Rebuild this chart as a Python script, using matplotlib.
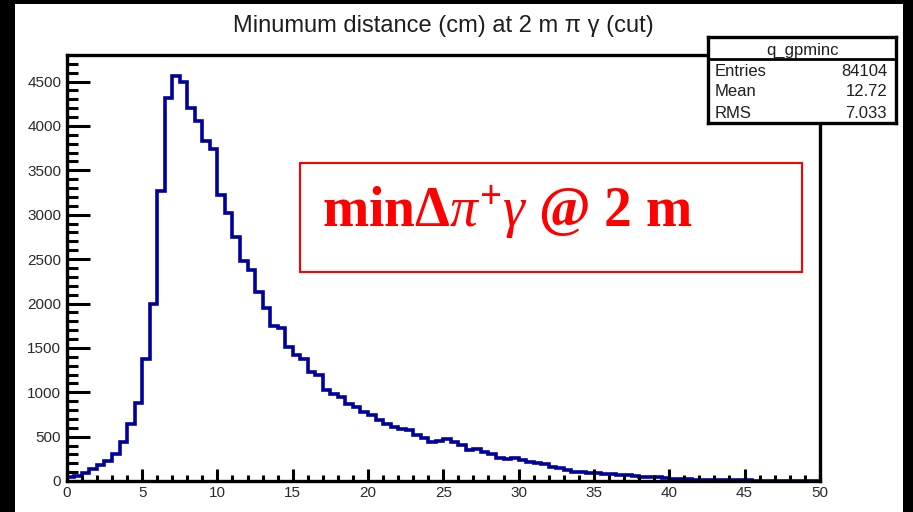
import numpy as np
import matplotlib
matplotlib.use("Agg")
import matplotlib.pyplot as plt
from matplotlib.patches import Rectangle

# minimum pi-gamma distance histogram, 100 bins of 0.5 cm
bin_edges = np.linspace(0, 50, 101)
counts = np.array([
    50, 60, 86, 135, 180, 225, 300, 443, 640, 883,
    1372, 1992, 3263, 4316, 4568, 4492, 4203, 4053, 3835, 3740,
    3226, 3019, 2744, 2481, 2380, 2135, 1947, 1750, 1720, 1515,
    1421, 1375, 1233, 1190, 1022, 977, 951, 868, 831, 782,
    744, 688, 645, 603, 585, 570, 515, 490, 444, 455,
    470, 444, 404, 346, 360, 325, 305, 260, 250, 254,
    233, 218, 205, 186, 158, 146, 128, 105, 105, 95,
    90, 80, 75, 70, 65, 60, 50, 45, 40, 35,
    25, 20, 18, 15, 15, 12, 10, 10, 8, 8,
    6, 5, 5, 4, 4, 3, 3, 2, 2, 1])
hist_name = "q_gpminc"
stat_labels = ["Entries", "Mean", "RMS"]
stat_values = ["84104", "12.72", "7.033"]
title = "Minumum distance (cm) at 2 m \u03c0 \u03b3 (cut)"

plt.rcParams['font.family'] = ['Liberation Sans', 'DejaVu Sans']
plt.rcParams['mathtext.fontset'] = 'custom'
plt.rcParams['mathtext.rm'] = 'Liberation Serif:bold'
plt.rcParams['mathtext.bf'] = 'Liberation Serif:bold'
plt.rcParams['mathtext.it'] = 'Liberation Serif:italic'

W, H = 913, 512
fig = plt.figure(figsize=(W / 100, H / 100), dpi=100, facecolor='black')

def fx(px):
    return px / W

def fy(py):
    return 1 - py / H

# white canvas pad
fig.patches.append(Rectangle((fx(15), 0), fx(903 - 15), fy(4), transform=fig.transFigure,
                             facecolor='white', edgecolor='none', zorder=0))

x0, x1, ytop, ybot = 66.8, 819.8, 55, 481
ax = fig.add_axes([fx(x0), fy(ybot), fx(x1 - x0), (ybot - ytop) / H])
ax.set_zorder(2)
ax.stairs(counts, bin_edges, color='#00009a', linewidth=2.6, baseline=None)
ax.set_xlim(0, 50)
ax.set_ylim(0, 4800)
for s in ax.spines.values():
    s.set_linewidth(2.4)
ax.set_xticks(np.arange(0, 51, 5))
ax.set_xticks(np.arange(0, 51, 1), minor=True)
ax.set_yticks(np.arange(0, 4501, 500))
ax.set_yticks(np.arange(0, 4801, 100), minor=True)
ax.tick_params(axis='both', which='both', direction='in', top=False, right=False,
               width=2.2, labelsize=11, labelcolor='#2a2a2a')
ax.tick_params(axis='y', which='major', length=16.5, pad=4)
ax.tick_params(axis='y', which='minor', length=8)
ax.tick_params(axis='x', which='major', length=8.5, pad=3.5)
ax.tick_params(axis='x', which='minor', length=4.5)

fig.text(fx(443), fy(32), title, ha='center', va='baseline', fontsize=17,
         color='#1e1e1e', zorder=3)

# stats box
sx0, sx1, sy0, sy1 = 708, 896, 37, 123
sax = fig.add_axes([fx(sx0), fy(sy1), fx(sx1 - sx0), (sy1 - sy0) / H])
sax.set_zorder(4)
sax.set_xlim(sx0, sx1)
sax.set_ylim(sy1, sy0)
sax.set_xticks([])
sax.set_yticks([])
sax.set_facecolor('white')
for s in sax.spines.values():
    s.set_linewidth(2.4)
sax.axhline(59, color='black', linewidth=2.0)
sax.text((sx0 + sx1) / 2, 50, hist_name, ha='center', va='center', fontsize=12, color='#1e1e1e')
for i, (lab, val) in enumerate(zip(stat_labels, stat_values)):
    yy = 71 + i * 21
    sax.text(715, yy, lab, ha='left', va='center', fontsize=12, color='#1e1e1e')
    sax.text(887, yy, val, ha='right', va='center', fontsize=12, color='#1e1e1e')

# red annotation box
fig.patches.append(Rectangle((fx(300), fy(272)), fx(802 - 300), (272 - 163) / H,
                             transform=fig.transFigure, facecolor='white',
                             edgecolor='red', linewidth=1.5, zorder=5))
fig.text(fx(322), fy(227), r'min$\Delta\pi^{+}\gamma$ @ 2 m', ha='left', va='baseline',
         fontsize=40, color='red', fontweight='bold', family='Liberation Serif', zorder=6)

fig.savefig('out.png', dpi=100, facecolor=fig.get_facecolor())
